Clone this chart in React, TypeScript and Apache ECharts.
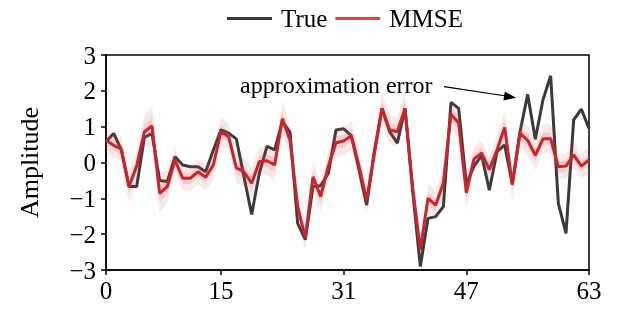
import React, { useEffect, useRef } from "react";
import * as echarts from "echarts";

const categories: string[] = Array.from({ length: 64 }, (_, i) => String(i));
const xTickLabels = [0, 15, 31, 47, 63];

const trueValues = [
  0.58, 0.81, 0.35, -0.67, -0.67, 0.7, 0.81, -0.5, -0.53, 0.16,
  -0.07, -0.12, -0.12, -0.26, 0.35, 0.91, 0.82, 0.66, -0.4, -1.45,
  -0.3, 0.45, 0.35, 1.14, 0.85, -1.7, -2.15, -0.67, -0.65, -0.3,
  0.91, 0.94, 0.75, -0.2, -1.19, 0.3, 1.51, 0.86, 0.54, 1.51,
  -0.8, -2.9, -1.56, -1.51, -1.23, 1.68, 1.51, -0.6, -0.1, 0.2,
  -0.77, 0.3, 0.49, -0.6, 0.85, 1.9, 0.65, 1.75, 2.42, -1.14,
  -1.98, 1.19, 1.49, 0.95,
];

const mmseValues = [
  0.62, 0.48, 0.37, -0.67, -0.1, 0.85, 1.02, -0.86, -0.67, 0.07,
  -0.44, -0.44, -0.26, -0.41, -0.07, 0.86, 0.72, -0.15, -0.26, -0.58,
  0.02, 0.05, -0.07, 1.22, 0.63, -1.23, -2.1, -0.4, -0.95, -0.1,
  0.55, 0.6, 0.75, -0.1, -1.05, 0.25, 1.51, 0.91, 0.86, 1.51,
  -0.7, -2.44, -1.0, -1.19, -0.58, 1.35, 1.1, -0.85, 0.1, 0.26,
  -0.2, 0.35, 0.98, -0.62, 0.82, 0.62, 0.2, 0.66, 0.66, -0.12,
  -0.1, 0.21, -0.1, 0.07,
];

// half-width of the cloud of posterior samples around the MMSE line
const sampleSpread = [
  0.3, 0.35, 0.35, 0.45, 0.4, 0.45, 0.55, 0.55, 0.45, 0.35,
  0.35, 0.35, 0.35, 0.35, 0.4, 0.4, 0.35, 0.4, 0.4, 0.45,
  0.4, 0.4, 0.45, 0.5, 0.4, 0.45, 0.35, 0.4, 0.45, 0.4,
  0.4, 0.4, 0.4, 0.4, 0.35, 0.4, 0.45, 0.4, 0.4, 0.4,
  0.45, 0.35, 0.4, 0.4, 0.45, 0.4, 0.4, 0.45, 0.35, 0.35,
  0.35, 0.35, 0.5, 0.45, 0.4, 0.4, 0.4, 0.4, 0.4, 0.35,
  0.35, 0.35, 0.35, 0.35,
];

const DARK = "#3a3a3a";
const RED = "#c4282e";
const FONT = "Liberation Serif";

export default function App() {
  const ref = useRef<HTMLDivElement>(null);
  useEffect(() => {
    if (!ref.current) return;
    const chart = echarts.init(ref.current, undefined, { renderer: "svg" });

    const outerLow = mmseValues.map((v, i) => v - sampleSpread[i]);
    const outerWidth = sampleSpread.map((s) => 2 * s);
    const innerLow = mmseValues.map((v, i) => v - sampleSpread[i] * 0.45);
    const innerWidth = sampleSpread.map((s) => 0.9 * s);

    const bandBase = {
      type: "line",
      symbol: "none",
      silent: true,
      stackStrategy: "all",
      lineStyle: { width: 0, opacity: 0 },
    };

    chart.setOption({
      animation: false,
      textStyle: { fontFamily: FONT },
      legend: {
        top: 1,
        left: 222,
        itemWidth: 45,
        itemHeight: 3,
        itemGap: 8,
        icon: "rect",
        textStyle: {
          fontFamily: FONT,
          fontSize: 25,
          color: "#000",
          padding: [0, 0, 0, 4],
        },
        data: ["True", "MMSE"],
      },
      grid: {
        left: 106,
        right: 30,
        top: 55,
        bottom: 41,
        show: true,
        borderColor: "#000",
        borderWidth: 1.5,
      },
      xAxis: {
        type: "category",
        data: categories,
        boundaryGap: false,
        axisLine: { onZero: false, lineStyle: { color: "#000", width: 1.5 } },
        axisTick: {
          inside: false,
          length: 5,
          lineStyle: { color: "#000", width: 1.5 },
          interval: (idx: number) => xTickLabels.includes(idx),
        },
        axisLabel: {
          interval: (idx: number) => xTickLabels.includes(idx),
          fontFamily: FONT,
          fontSize: 25,
          color: "#000",
          margin: 8,
        },
        splitLine: { show: false },
      },
      yAxis: {
        type: "value",
        min: -3,
        max: 3,
        interval: 1,
        name: "Amplitude",
        nameLocation: "middle",
        nameGap: 64,
        nameTextStyle: { fontFamily: FONT, fontSize: 26, color: "#000" },
        axisLine: { show: true, lineStyle: { color: "#000", width: 1.5 } },
        axisTick: { show: true, length: 5, lineStyle: { color: "#000", width: 1.5 } },
        axisLabel: {
          fontFamily: FONT,
          fontSize: 25,
          color: "#000",
          margin: 10,
          formatter: (v: number) => (v < 0 ? "\u2212" + Math.abs(v) : String(v)),
        },
        splitLine: { show: false },
      },
      series: [
        {
          name: "True",
          type: "line",
          data: trueValues,
          symbol: "none",
          lineStyle: { color: DARK, width: 3 },
          itemStyle: { color: DARK },
          z: 2,
        },
        { ...bandBase, name: "outerLow", stack: "outer", data: outerLow, z: 3 },
        {
          ...bandBase,
          name: "outerWidth",
          stack: "outer",
          data: outerWidth,
          areaStyle: { color: "rgba(205, 70, 70, 0.18)" },
          z: 3,
        },
        { ...bandBase, name: "innerLow", stack: "inner", data: innerLow, z: 3 },
        {
          ...bandBase,
          name: "innerWidth",
          stack: "inner",
          data: innerWidth,
          areaStyle: { color: "rgba(205, 70, 70, 0.22)" },
          z: 3,
        },
        {
          name: "MMSE",
          type: "line",
          data: mmseValues,
          symbol: "none",
          lineStyle: { color: RED, width: 3 },
          itemStyle: { color: "#c9504f" },
          z: 4,
        },
      ],
      graphic: [
        {
          type: "text",
          left: 240,
          top: 73,
          style: {
            text: "approximation error",
            font: `24px "${FONT}"`,
            fill: "#000",
          },
          z: 10,
        },
        {
          type: "line",
          shape: { x1: 444, y1: 86.7, x2: 506, y2: 96 },
          style: { stroke: "#000", lineWidth: 1.2 },
          z: 10,
        },
        {
          type: "polygon",
          shape: {
            points: [
              [516, 97.7],
              [503.4, 100.4],
              [504.8, 91.5],
            ],
          },
          style: { fill: "#000" },
          z: 10,
        },
      ],
    });
    return () => chart.dispose();
  }, []);
  return (
    <div
      ref={ref}
      style={{ position: "fixed", left: 0, top: 0, width: 619, height: 311 }}
    />
  );
}
